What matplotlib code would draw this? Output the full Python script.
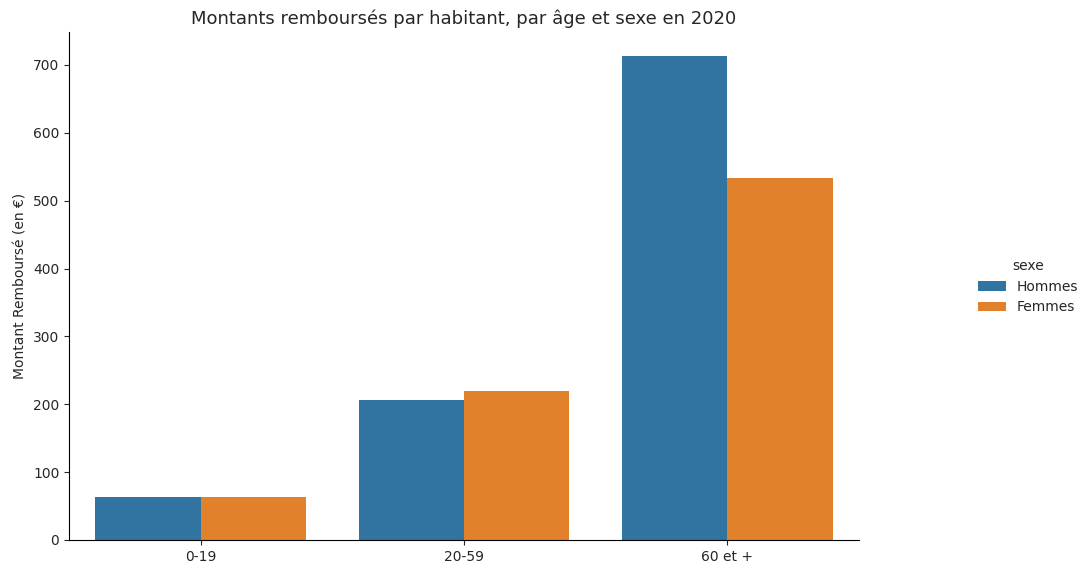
import numpy as np
import pandas as pd
import matplotlib
matplotlib.use("Agg")
import matplotlib.pyplot as plt
import seaborn as sns

# montants par habitant
ages = ["0-19", "20-59", "60 et +"]
sexes = ["Hommes", "Femmes"]
hommes = [63, 207, 713]
femmes = [63, 219, 534]

df = pd.DataFrame({
    "age": ages * 2,
    "sexe": ["Hommes"] * 3 + ["Femmes"] * 3,
    "montant": hommes + femmes,
})

plt.rcParams["text.color"] = "#262626"
plt.rcParams["axes.labelcolor"] = "#262626"
plt.rcParams["xtick.color"] = "#262626"
plt.rcParams["ytick.color"] = "#262626"

fig = plt.figure(figsize=(10.79, 5.64), dpi=100)
ax = fig.add_axes([0.064, 0.0426, 0.732, 0.9])

sns.barplot(data=df, x="age", y="montant", hue="sexe", hue_order=sexes,
            order=ages, errorbar=None, ax=ax, saturation=0.75)
sns.despine(ax=ax)

ax.set_xlabel("")
ax.set_ylabel("Montant Remboursé (en €)")
ax.set_title("Montants remboursés par habitant, par âge et sexe en 2020", fontsize=13)
ax.set_ylim(0, 748)
ax.set_xlim(-0.5, 2.5)

handles, labels = ax.get_legend_handles_labels()
ax.get_legend().remove()
fig.legend(handles, labels, title="sexe", frameon=False,
           loc="center left", bbox_to_anchor=(0.895, 0.492))

fig.savefig("out.png", dpi=100)
